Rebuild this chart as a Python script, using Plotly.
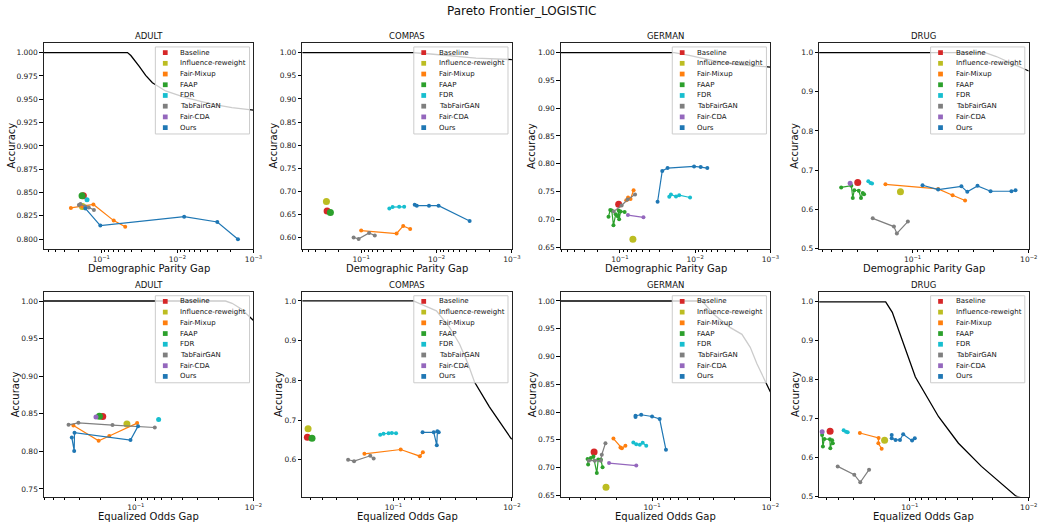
import plotly.graph_objects as go

W, H = 1045, 527

METHODS = ["Baseline", "Influence-reweight", "Fair-Mixup", "FAAP", "FDR",
           "TabFairGAN", "Fair-CDA", "Ours"]
COLORS = ["#d62728", "#bcbd22", "#ff7f0e", "#2ca02c", "#17becf",
          "#7f7f7f", "#9467bd", "#1f77b4"]
DATASETS = ["ADULT", "COMPAS", "GERMAN", "DRUG"]

# ---------------- Demographic Parity Gap (top row) ----------------
adult_dp = {
    "Baseline": ([0.172], [0.8465]),
    "Influence-reweight": ([0.177], [0.835]),
    "Fair-Mixup": ([0.251, 0.177, 0.127, 0.0687, 0.0485], [0.8335, 0.835, 0.8372, 0.8199, 0.8133]),
    "FAAP": ([0.179], [0.8465]),
    "FDR": ([0.154], [0.8422]),
    "TabFairGAN": ([0.197, 0.188, 0.162, 0.146, 0.125], [0.8367, 0.8378, 0.835, 0.834, 0.8314]),
    "Fair-CDA": ([], []),
    "Ours": ([0.162, 0.103, 0.00815, 0.00299, 0.0016], [0.833, 0.8146, 0.8241, 0.8184, 0.800]),
}
compas_dp = {
    "Baseline": ([0.283], [0.6578]),
    "Influence-reweight": ([0.289], [0.6786]),
    "Fair-Mixup": ([0.1, 0.0339, 0.0277, 0.0224], [0.6158, 0.6094, 0.6257, 0.6192]),
    "FAAP": ([0.256], [0.655]),
    "FDR": ([0.0423, 0.0383, 0.0313, 0.0269], [0.6636, 0.6664, 0.6671, 0.6671]),
    "TabFairGAN": ([0.126, 0.108, 0.0785, 0.066], [0.6008, 0.5978, 0.6107, 0.605]),
    "Fair-CDA": ([], []),
    "Ours": ([0.0195, 0.0183, 0.0126, 0.00941, 0.00364], [0.6715, 0.6694, 0.6694, 0.6694, 0.6364]),
}
german_dp = {
    "Baseline": ([0.104], [0.7273]),
    "Influence-reweight": ([0.0673], [0.6643]),
    "Fair-Mixup": ([0.0824, 0.078, 0.0723, 0.0659], [0.7345, 0.7393, 0.7366, 0.7523]),
    "FAAP": ([0.142, 0.1346, 0.1285, 0.122, 0.114, 0.107, 0.104, 0.1025, 0.098, 0.0867],
             [0.7048, 0.717, 0.716, 0.6893, 0.709, 0.7054, 0.716, 0.70, 0.7143, 0.7134]),
    "FDR": ([0.0221, 0.021, 0.018, 0.0163, 0.0117], [0.7405, 0.7446, 0.741, 0.7434, 0.7393]),
    "TabFairGAN": ([0.121, 0.095, 0.0791, 0.063], [0.7143, 0.725, 0.7357, 0.7446]),
    "Fair-CDA": ([0.0784, 0.0487], [0.7077, 0.7036]),
    "Ours": ([0.0316, 0.0274, 0.0233, 0.01035, 0.00844, 0.0069],
             [0.7316, 0.787, 0.7923, 0.7952, 0.794, 0.7923]),
}
drug_dp = {
    "Baseline": ([0.296], [0.668]),
    "Influence-reweight": ([0.127], [0.6444]),
    "Fair-Mixup": ([0.171, 0.0602, 0.0452, 0.0353], [0.6637, 0.652, 0.6358, 0.6224]),
    "FAAP": ([0.411, 0.336, 0.3266, 0.317, 0.29, 0.2775, 0.268, 0.261],
             [0.6557, 0.66, 0.6288, 0.6485, 0.6472, 0.6288, 0.6415, 0.638]),
    "FDR": ([0.24, 0.23, 0.223], [0.6713, 0.6672, 0.6655]),
    "TabFairGAN": ([0.22, 0.1446, 0.1364, 0.1097], [0.5768, 0.5557, 0.538, 0.5684]),
    "Fair-CDA": ([0.344], [0.6663]),
    "Ours": ([0.082, 0.0602, 0.038, 0.0338, 0.0276, 0.0213, 0.0141, 0.013],
             [0.6612, 0.6503, 0.6586, 0.6444, 0.6597, 0.646, 0.646, 0.6485]),
}

# ---------------- Equalized Odds Gap (bottom row) ----------------
adult_eo = {
    "Baseline": ([0.191], [0.8463]),
    "Influence-reweight": ([0.119], [0.8363]),
    "Fair-Mixup": ([0.339, 0.207, 0.168, 0.0975], [0.8344, 0.8142, 0.8204, 0.8376]),
    "FAAP": ([0.204], [0.8468]),
    "FDR": ([0.064], [0.8423]),
    "TabFairGAN": ([0.373, 0.3077, 0.1578, 0.069], [0.8353, 0.838, 0.835, 0.8318]),
    "Fair-CDA": ([0.218], [0.8459]),
    "Ours": ([0.35, 0.334, 0.332, 0.111, 0.0957], [0.8186, 0.8006, 0.8248, 0.8151, 0.8336]),
}
compas_eo = {
    "Baseline": ([0.533], [0.6565]),
    "Influence-reweight": ([0.526], [0.6783]),
    "Fair-Mixup": ([0.176, 0.0869, 0.0599, 0.0565], [0.615, 0.6258, 0.609, 0.619]),
    "FAAP": ([0.487], [0.654]),
    "FDR": ([0.1294, 0.1213, 0.110, 0.1033, 0.0951], [0.6633, 0.6658, 0.6665, 0.6675, 0.6665]),
    "TabFairGAN": ([0.2415, 0.215, 0.157, 0.147], [0.60, 0.5965, 0.61, 0.6033]),
    "Fair-CDA": ([], []),
    "Ours": ([0.0568, 0.0457, 0.0431, 0.0426, 0.0415], [0.669, 0.669, 0.6365, 0.6715, 0.669]),
}
german_eo = {
    "Baseline": ([0.309], [0.7279]),
    "Influence-reweight": ([0.245], [0.6648]),
    "Fair-Mixup": ([0.212, 0.185, 0.18, 0.168], [0.7523, 0.7363, 0.735, 0.7393]),
    "FAAP": ([0.347, 0.351, 0.329, 0.313, 0.293, 0.285, 0.271, 0.262],
             [0.7054, 0.7154, 0.7171, 0.7202, 0.6904, 0.7148, 0.7148, 0.7005]),
    "FDR": ([0.144, 0.136, 0.127, 0.12, 0.112], [0.7452, 0.7421, 0.741, 0.7446, 0.7393]),
    "TabFairGAN": ([0.342, 0.305, 0.271, 0.266, 0.2477], [0.7125, 0.7125, 0.7125, 0.7232, 0.744]),
    "Fair-CDA": ([0.231, 0.136], [0.7082, 0.7036]),
    "Ours": ([0.138, 0.138, 0.1236, 0.1, 0.0863, 0.0763], [0.791, 0.7935, 0.7952, 0.7921, 0.7875, 0.732]),
}
drug_eo = {
    "Baseline": ([0.468], [0.6668]),
    "Influence-reweight": ([0.163], [0.6438]),
    "Fair-Mixup": ([0.263, 0.183, 0.1838, 0.1725], [0.6627, 0.65, 0.6362, 0.6219]),
    "FAAP": ([0.546, 0.538, 0.523, 0.47, 0.466, 0.45, 0.444],
             [0.6576, 0.6277, 0.6474, 0.6464, 0.6234, 0.6438, 0.6362]),
    "FDR": ([0.36, 0.344, 0.3328], [0.6694, 0.666, 0.6643]),
    "TabFairGAN": ([0.404, 0.293, 0.261, 0.22], [0.5767, 0.5554, 0.5358, 0.5682]),
    "Fair-CDA": ([0.546], [0.666]),
    "Ours": ([0.142, 0.142, 0.1318, 0.121, 0.1137, 0.0957, 0.0908],
             [0.6576, 0.649, 0.6449, 0.6449, 0.6592, 0.643, 0.649]),
}

# ---------------- Pareto frontiers ----------------
adult_dp_front_x = [1.0, 0.0453, 0.0409, 0.0371, 0.0319, 0.0261, 0.0213, 0.0143, 0.00782, 0.00351, 0.00192, 0.001]
adult_dp_front_y = [1.0, 1.0, 0.9968, 0.9926, 0.9855, 0.9755, 0.9677, 0.9589, 0.9518, 0.9447, 0.9411, 0.9383]
compas_dp_front_x = [1.0, 0.0205, 0.012, 0.006, 0.003, 0.001]
compas_dp_front_y = [1.0, 1.0, 0.997, 0.992, 0.988, 0.985]
german_dp_front_x = [1.0, 0.019, 0.012, 0.006, 0.003, 0.001]
german_dp_front_y = [1.0, 1.0, 0.995, 0.986, 0.979, 0.974]
drug_dp_front_x = [1.0, 0.0237, 0.019, 0.015, 0.012, 0.01]
drug_dp_front_y = [1.0, 1.0, 0.99, 0.976, 0.963, 0.953]
adult_eo_front_x = [1.0, 0.0173, 0.0152, 0.0126, 0.01]
adult_eo_front_y = [1.0, 1.0, 0.997, 0.989, 0.974]
compas_eo_front_x = [1.0, 0.0679, 0.0434, 0.0335, 0.0277, 0.0235, 0.0207, 0.0155, 0.0102, 0.01]
compas_eo_front_y = [1.0, 1.0, 0.975, 0.933, 0.8915, 0.8415, 0.7958, 0.7333, 0.654, 0.652]
german_eo_front_x = [1.0, 0.0377, 0.0301, 0.0218, 0.0174, 0.0148, 0.013, 0.01146, 0.0102, 0.01]
german_eo_front_y = [1.0, 1.0, 0.976, 0.952, 0.94, 0.9166, 0.887, 0.863, 0.839, 0.836]
drug_eo_front_x = [1.0, 0.1596, 0.1404, 0.116, 0.0898, 0.0573, 0.039, 0.025, 0.016, 0.0128, 0.01]
drug_eo_front_y = [1.0, 1.0, 0.973, 0.9, 0.8066, 0.7044, 0.6362, 0.5767, 0.5256, 0.5, 0.49]

# ---------------- Axis setup ----------------
TOP_XTICKS = [0.1, 0.01, 0.001]
TOP_XTEXT = ["10<sup>\u22121</sup>", "10<sup>\u22122</sup>", "10<sup>\u22123</sup>"]
BOT_XTICKS = [0.1, 0.01]
BOT_XTEXT = ["10<sup>\u22121</sup>", "10<sup>\u22122</sup>"]
MINOR_TICKS = [m * 10 ** e for e in (-1, -2, -3) for m in range(2, 10)]

PANELS = [
    # data, frontier x, frontier y, row, col, xrange(log), yrange, yticks, yfmt
    (adult_dp, adult_dp_front_x, adult_dp_front_y, 0, 0, [-0.246, -3.0], [0.7897, 1.0103],
     [0.8 + 0.025 * i for i in range(9)], "{:.3f}"),
    (compas_dp, compas_dp_front_x, compas_dp_front_y, 0, 1, [-0.22, -3.0], [0.5764, 1.0208],
     [0.6 + 0.05 * i for i in range(9)], "{:.2f}"),
    (german_dp, german_dp_front_x, german_dp_front_y, 0, 2, [-0.214, -3.0], [0.647, 1.0173],
     [0.65 + 0.05 * i for i in range(8)], "{:.2f}"),
    (drug_dp, drug_dp_front_x, drug_dp_front_y, 0, 3, [-0.197, -2.0], [0.499, 1.0246],
     [0.5 + 0.1 * i for i in range(6)], "{:.1f}"),
    (adult_eo, adult_eo_front_x, adult_eo_front_y, 1, 0, [-0.219, -2.0], [0.74, 1.0123],
     [0.75 + 0.05 * i for i in range(6)], "{:.2f}"),
    (compas_eo, compas_eo_front_x, compas_eo_front_y, 1, 1, [-0.231, -2.0], [0.5075, 1.023],
     [0.6 + 0.1 * i for i in range(5)], "{:.1f}"),
    (german_eo, german_eo_front_x, german_eo_front_y, 1, 2, [-0.229, -2.0], [0.648, 1.0166],
     [0.65 + 0.05 * i for i in range(8)], "{:.2f}"),
    (drug_eo, drug_eo_front_x, drug_eo_front_y, 1, 3, [-0.238, -2.0], [0.4992, 1.026],
     [0.5 + 0.1 * i for i in range(6)], "{:.1f}"),
]

COL_LEFT = [44.3, 305.0, 565.7, 826.3]
PW = 211.4
ROW_TOP = [43.3, 294.0]
PH = [207.4, 206.3]
XLABEL = ["Demographic Parity Gap", "Equalized Odds Gap"]
XLABEL_Y = [270.5, 520.5]
TITLE_Y = [36.5, 287.0]
YLAB_OFF = {5: 32.6, 4: 29.0, 3: 24.6}

FONT = "DejaVu Sans"
TICK_SIZE = 7.5
LEG_SIZE = 7

fig = go.Figure()
shapes = []
annotations = []
layout = {}


def px_x(px):
    return px / W


def px_y(py):
    return 1 - py / H


for k, (data, fx, fy, row, col, xr, yr, yticks, yfmt) in enumerate(PANELS):
    n = k + 1
    xa = "x" if n == 1 else f"x{n}"
    ya = "y" if n == 1 else f"y{n}"
    xkey = "xaxis" if n == 1 else f"xaxis{n}"
    ykey = "yaxis" if n == 1 else f"yaxis{n}"

    left = COL_LEFT[col]
    right = left + PW
    top = ROW_TOP[row]
    bottom = top + PH[row]

    # frontier
    fig.add_trace(go.Scatter(x=fx, y=fy, xaxis=xa, yaxis=ya, mode="lines",
                             line=dict(color="black", width=1.3),
                             showlegend=False, hoverinfo="skip"))
    # methods
    for m, c in zip(METHODS, COLORS):
        xs, ys = data[m]
        if not xs:
            continue
        if len(xs) == 1:
            size = 7 if m in ("Baseline", "Influence-reweight", "FAAP") else 5
            fig.add_trace(go.Scatter(x=xs, y=ys, xaxis=xa, yaxis=ya, mode="markers",
                                     marker=dict(color=c, size=size, line=dict(width=0)),
                                     showlegend=False, hoverinfo="skip"))
        else:
            fig.add_trace(go.Scatter(x=xs, y=ys, xaxis=xa, yaxis=ya, mode="lines+markers",
                                     marker=dict(color=c, size=4, line=dict(width=0)),
                                     line=dict(color=c, width=1.2),
                                     showlegend=False, hoverinfo="skip"))

    xticks = TOP_XTICKS if row == 0 else BOT_XTICKS
    xtext = TOP_XTEXT if row == 0 else BOT_XTEXT
    minor_vals = [v for v in MINOR_TICKS if 10 ** min(xr) <= v <= 10 ** max(xr)]
    layout[xkey] = dict(
        domain=[px_x(left), px_x(right)], anchor=ya, type="log", range=xr, autorange=False,
        tickmode="array", tickvals=xticks, ticktext=xtext,
        ticks="outside", ticklen=3.5, tickwidth=0.8, tickcolor="black",
        showline=True, mirror=True, linecolor="#222", linewidth=1,
        showgrid=False, zeroline=False,
        tickfont=dict(family=FONT, size=TICK_SIZE, color="#222"),
        minor=dict(tickmode="array", tickvals=minor_vals, ticks="outside", ticklen=2,
                   tickwidth=0.6, tickcolor="black", showgrid=False),
    )
    ytext = [yfmt.format(v) for v in yticks]
    layout[ykey] = dict(
        domain=[px_y(bottom), px_y(top)], anchor=xa, range=yr, autorange=False,
        tickmode="array", tickvals=yticks, ticktext=ytext,
        ticks="outside", ticklen=3.5, tickwidth=0.8, tickcolor="black",
        showline=True, mirror=True, linecolor="#222", linewidth=1,
        showgrid=False, zeroline=False,
        tickfont=dict(family=FONT, size=TICK_SIZE, color="#222"),
    )

    # subplot title
    annotations.append(dict(text=DATASETS[col], x=px_x((left + right) / 2), y=px_y(TITLE_Y[row]),
                            xref="paper", yref="paper", showarrow=False,
                            xanchor="center", yanchor="middle",
                            font=dict(family=FONT, size=8.5, color="#111")))
    # x label
    annotations.append(dict(text=XLABEL[row], x=px_x((left + right) / 2), y=px_y(XLABEL_Y[row]),
                            xref="paper", yref="paper", showarrow=False,
                            xanchor="center", yanchor="middle",
                            font=dict(family=FONT, size=10, color="#111")))
    # y label
    off = YLAB_OFF[max(len(t) for t in ytext)]
    annotations.append(dict(text="Accuracy", x=px_x(left - off), y=px_y((top + bottom) / 2),
                            xref="paper", yref="paper", showarrow=False, textangle=-90,
                            xanchor="center", yanchor="middle",
                            font=dict(family=FONT, size=10, color="#111")))

    # legend box (matplotlib style)
    bx1 = right - 4
    bx0 = bx1 - 95
    by0 = top + 4
    by1 = by0 + 87.7
    shapes.append(dict(type="rect", xref="paper", yref="paper", layer="above",
                       x0=px_x(bx0), x1=px_x(bx1), y0=px_y(by1), y1=px_y(by0),
                       fillcolor="rgba(255,255,255,0.8)", line=dict(color="#cccccc", width=1)))
    for i, (m, c) in enumerate(zip(METHODS, COLORS)):
        cy = by0 + 5.7 + 10.8 * i
        cx = bx0 + 10
        shapes.append(dict(type="rect", xref="paper", yref="paper", layer="above",
                           x0=px_x(cx - 2.4), x1=px_x(cx + 2.4), y0=px_y(cy + 2.4), y1=px_y(cy - 2.4),
                           fillcolor=c, line=dict(width=0)))
        annotations.append(dict(text=m, x=px_x(bx0 + 23.3), y=px_y(cy), xref="paper", yref="paper",
                                showarrow=False, xanchor="left", yanchor="middle",
                                font=dict(family=FONT, size=LEG_SIZE, color="#111")))

annotations.append(dict(text="Pareto Frontier_LOGISTIC", x=px_x(526), y=px_y(11),
                        xref="paper", yref="paper", showarrow=False,
                        xanchor="center", yanchor="middle",
                        font=dict(family=FONT, size=12, color="#111")))

fig.update_layout(
    width=W, height=H,
    margin=dict(l=0, r=0, t=0, b=0),
    paper_bgcolor="white", plot_bgcolor="white",
    showlegend=False,
    shapes=shapes, annotations=annotations,
    **layout,
)

fig.write_html("out.html",
               config={"displayModeBar": False},
               post_script="document.body.style.margin='0';document.body.style.overflow='hidden';")
